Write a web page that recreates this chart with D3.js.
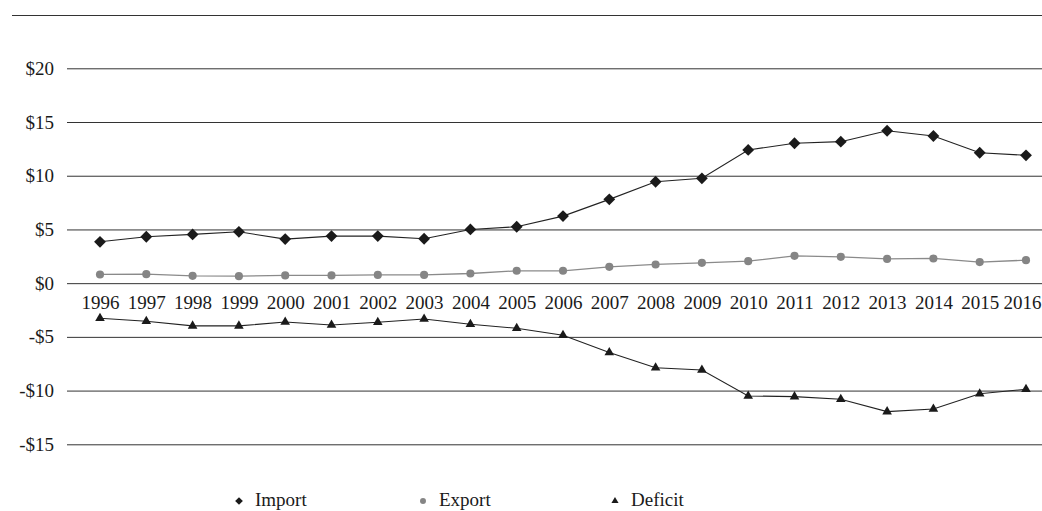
<!DOCTYPE html>
<html>
<head>
<meta charset="utf-8">
<script src="https://cdn.jsdelivr.net/npm/d3@7"></script>
<style>
  html, body { margin: 0; padding: 0; background: #fff; }
  svg { display: block; }
  text { font-family: "Liberation Serif", "DejaVu Serif", serif; fill: #1a1a1a; }
</style>
</head>
<body>
<svg id="chart" width="1042" height="511"></svg>
<script>
const years = ["1996","1997","1998","1999","2000","2001","2002","2003","2004","2005","2006","2007","2008","2009","2010","2011","2012","2013","2014","2015","2016"];
const importVals = [3.85, 4.32, 4.54, 4.78, 4.10, 4.38, 4.38, 4.13, 5.00, 5.25, 6.24, 7.80, 9.44, 9.76, 12.40, 13.02, 13.17, 14.19, 13.70, 12.14, 11.90];
const exportVals = [0.81, 0.84, 0.68, 0.65, 0.72, 0.72, 0.77, 0.77, 0.90, 1.15, 1.15, 1.52, 1.74, 1.89, 2.05, 2.54, 2.45, 2.26, 2.30, 1.96, 2.14];
const deficitVals = [-3.27, -3.55, -3.98, -3.98, -3.61, -3.89, -3.64, -3.33, -3.83, -4.20, -4.85, -6.46, -7.88, -8.08, -10.50, -10.56, -10.81, -11.96, -11.71, -10.29, -9.88];
const yTicks = [-15, -10, -5, 0, 5, 10, 15, 20];
const seriesNames = ["Import", "Export", "Deficit"];

const svg = d3.select("#chart");
const W = 1042;
const x = d3.scalePoint().domain(years).range([100, 1026]);
const y = d3.scaleLinear().domain([-15, 20]).range([444.3, 68.3]);
const gridLeft = 67, gridRight = W;

// top rule
svg.append("line").attr("x1", 12).attr("x2", W).attr("y1", 15.5).attr("y2", 15.5)
  .attr("stroke", "#333").attr("stroke-width", 1);

// y axis with gridlines
const yAxis = d3.axisLeft(y).tickValues(yTicks)
  .tickSize(-(gridRight - gridLeft)).tickPadding(13)
  .tickFormat(d => (d < 0 ? "-$" : "$") + Math.abs(d));
const gy = svg.append("g").attr("transform", `translate(${gridLeft},0)`).call(yAxis);
gy.select(".domain").remove();
gy.selectAll(".tick line").attr("stroke", "#333").attr("stroke-width", 1);
gy.selectAll(".tick text").attr("font-size", 19).attr("font-family", "Liberation Serif, serif").attr("fill", "#1a1a1a");

// x axis labels (at zero line)
const xAxis = d3.axisBottom(x).tickSize(0).tickPadding(12);
const gx = svg.append("g").attr("transform", `translate(0,${y(0)})`).call(xAxis);
gx.select(".domain").remove();
gx.selectAll(".tick text").attr("font-size", 19).attr("font-family", "Liberation Serif, serif").attr("fill", "#1a1a1a");
// keep the last label inside the picture
gx.selectAll(".tick text").filter(d => d === years[years.length - 1])
  .attr("text-anchor", "end").attr("x", (W - 1) - x(years[years.length - 1]));

const line = d3.line().x((d, i) => x(years[i])).y(d => y(d));

const series = [
  { name: "Import", vals: importVals, color: "#1a1a1a", lineColor: "#222", symbol: d3.symbolSquare, rot: 45, size: 70, lw: 1.1 },
  { name: "Export", vals: exportVals, color: "#858585", lineColor: "#8a8a8a", symbol: d3.symbolCircle, size: 52, rot: 0, lw: 1.3 },
  { name: "Deficit", vals: deficitVals, color: "#1a1a1a", lineColor: "#222", symbol: d3.symbolTriangle, size: 40, rot: 0, lw: 1.1 }
];

series.forEach(s => {
  svg.append("path").datum(s.vals).attr("d", line)
    .attr("fill", "none").attr("stroke", s.lineColor).attr("stroke-width", s.lw);
  svg.append("g").selectAll("path").data(s.vals).join("path")
    .attr("transform", (d, i) => `translate(${x(years[i])},${y(d)}) rotate(${s.rot})`)
    .attr("d", d3.symbol().type(s.symbol).size(s.size))
    .attr("fill", s.color);
});

// legend
const legendX = [239, 423, 615];
const legendSizes = [30, 28, 22];
const lg = svg.append("g");
series.forEach((s, i) => {
  lg.append("path").attr("transform", `translate(${legendX[i]},501) rotate(${s.rot})`)
    .attr("d", d3.symbol().type(s.symbol).size(legendSizes[i])).attr("fill", s.color);
  lg.append("text").attr("x", legendX[i] + 16).attr("y", 506)
    .attr("font-size", 19).attr("fill", "#1a1a1a").text(seriesNames[i]);
});
</script>
</body>
</html>
